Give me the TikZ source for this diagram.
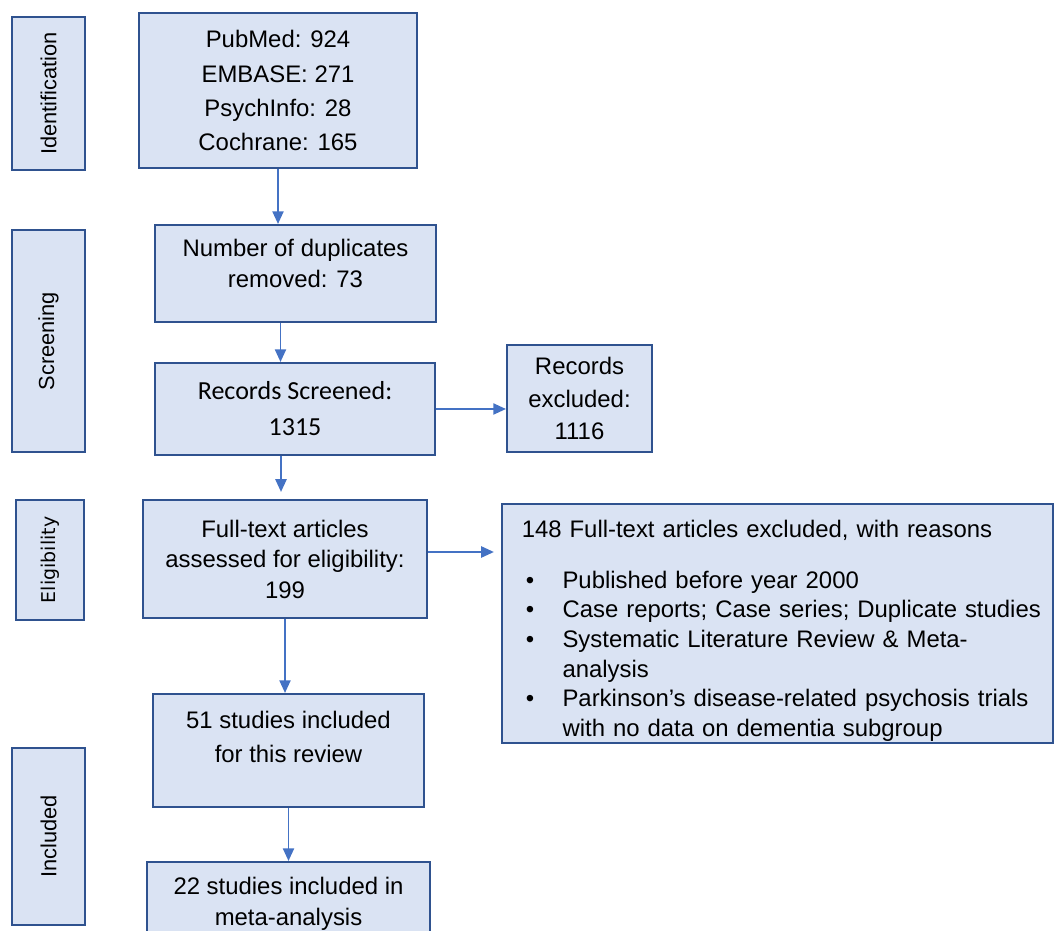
\documentclass[tikz,border=0pt]{standalone}
\usepackage{fontspec}
\setmainfont{Liberation Sans}
\newfontfamily\calibrifont{Carlito}
\newfontfamily\verdanafont{DejaVu Sans}
\usetikzlibrary{positioning, arrows.meta, calc}

\definecolor{boxfill}{HTML}{DAE3F3}
\definecolor{boxline}{HTML}{2F528F}
\definecolor{arrowblue}{HTML}{4472C4}

\newcommand{\reason}{\makebox[36pt][l]{\hspace{10pt}\textbullet}}
\newcommand{\reasongap}{\hspace*{36pt}}

\begin{document}
\begin{tikzpicture}[
    x=0.025cm, y=-0.025cm,
    every node/.style={draw=boxline, fill=boxfill, line width=1.5pt, inner sep=0pt,
        align=center, font=\fontsize{17}{22}\selectfont},
    stage/.style={rotate=90, minimum height=1.825cm, font=\fontsize{15.5}{18}\selectfont},
    flow/.style={->, color=arrowblue, line width=1.1pt},
    >={Triangle[length=9pt, width=8pt]}
]
\useasboundingbox (0,0) rectangle (1054,931);

% Stage labels on the left
\node[stage, minimum width=3.825cm] (ident) at (48.5,93.5) {Identification};
\node[stage, minimum width=5.55cm] (screen) at (48.5,341) {Screening};
\node[stage, minimum width=3cm, minimum height=1.7cm,
    font=\verdanafont\fontsize{13.5}{15}\selectfont] (elig) at (50,560) {Eligibility};
\node[stage, minimum width=4.425cm] (incl) at (48.5,836.5) {Included};

% Flow boxes
\node[minimum width=6.95cm, minimum height=3.875cm, font=\fontsize{17}{24.2}\selectfont]
    (dbs) at (278,90.5) {PubMed: 924\\EMBASE: 271\\PsychInfo: 28\\Cochrane: 165};
\node[minimum width=7.025cm, minimum height=2.425cm, text depth=15pt]
    (dup) at (295.5,273.5) {Number of duplicates\\removed: 73};
\node[minimum width=7cm, minimum height=2.3cm, font=\calibrifont\fontsize{18.5}{25.6}\selectfont]
    (scr) at (295,409) {Records Screened:\\1315};
\node[minimum width=3.625cm, minimum height=2.675cm, font=\fontsize{17}{23.1}\selectfont]
    (recex) at (579.5,398.5) {Records\\excluded:\\1116};
\node[minimum width=7.1cm, minimum height=2.95cm, font=\fontsize{17}{21.7}\selectfont]
    (full) at (285,559) {Full-text articles\\assessed for eligibility:\\199};
\node[minimum width=13.775cm, minimum height=5.975cm, text width=13.275cm, align=left,
    font=\fontsize{17}{21.1}\selectfont] (ftex) at (777.5,623.5)
    {\rule{0pt}{22.5pt}\hspace*{7pt}148 Full-text articles excluded, with reasons\\[15pt]
     \reason Published before year 2000\\
     \reason Case reports; Case series; Duplicate studies\\
     \reason Systematic Literature Review \& Meta-\\
     \reasongap analysis\\
     \reason Parkinson’s disease-related psychosis trials\\
     \reasongap with no data on dementia subgroup};
\node[minimum width=6.775cm, minimum height=2.825cm, text depth=19pt,
    font=\fontsize{17}{24.2}\selectfont]
    (stud51) at (288.5,750.5) {51 studies included\\for this review};
\node[minimum width=7.075cm, minimum height=2.075cm]
    (stud22) at (288.5,903.5) {22 studies included in\\meta-analysis};

% Draw the arrows
\coordinate (dupout) at ($(dup.south)+(-15,0)$);
\coordinate (scrout) at ($(scr.south)+(-14,0)$);
\coordinate (fullout) at ($(full.east)+(0,-7)$);
\draw[flow] (dbs.south) -- (dbs.south |- dup.north);
\draw[flow] (dupout) -- (dupout |- scr.north);
\draw[flow] (scr.east) -- (scr.east -| recex.west);
\draw[flow, shorten >=5pt] (scrout) -- (scrout |- full.north);
\draw[flow, shorten >=5pt] (fullout) -- (fullout -| ftex.west);
\draw[flow] (full.south) -- (full.south |- stud51.north);
\draw[flow] (stud51.south) -- (stud51.south |- stud22.north);

\end{tikzpicture}
\end{document}
